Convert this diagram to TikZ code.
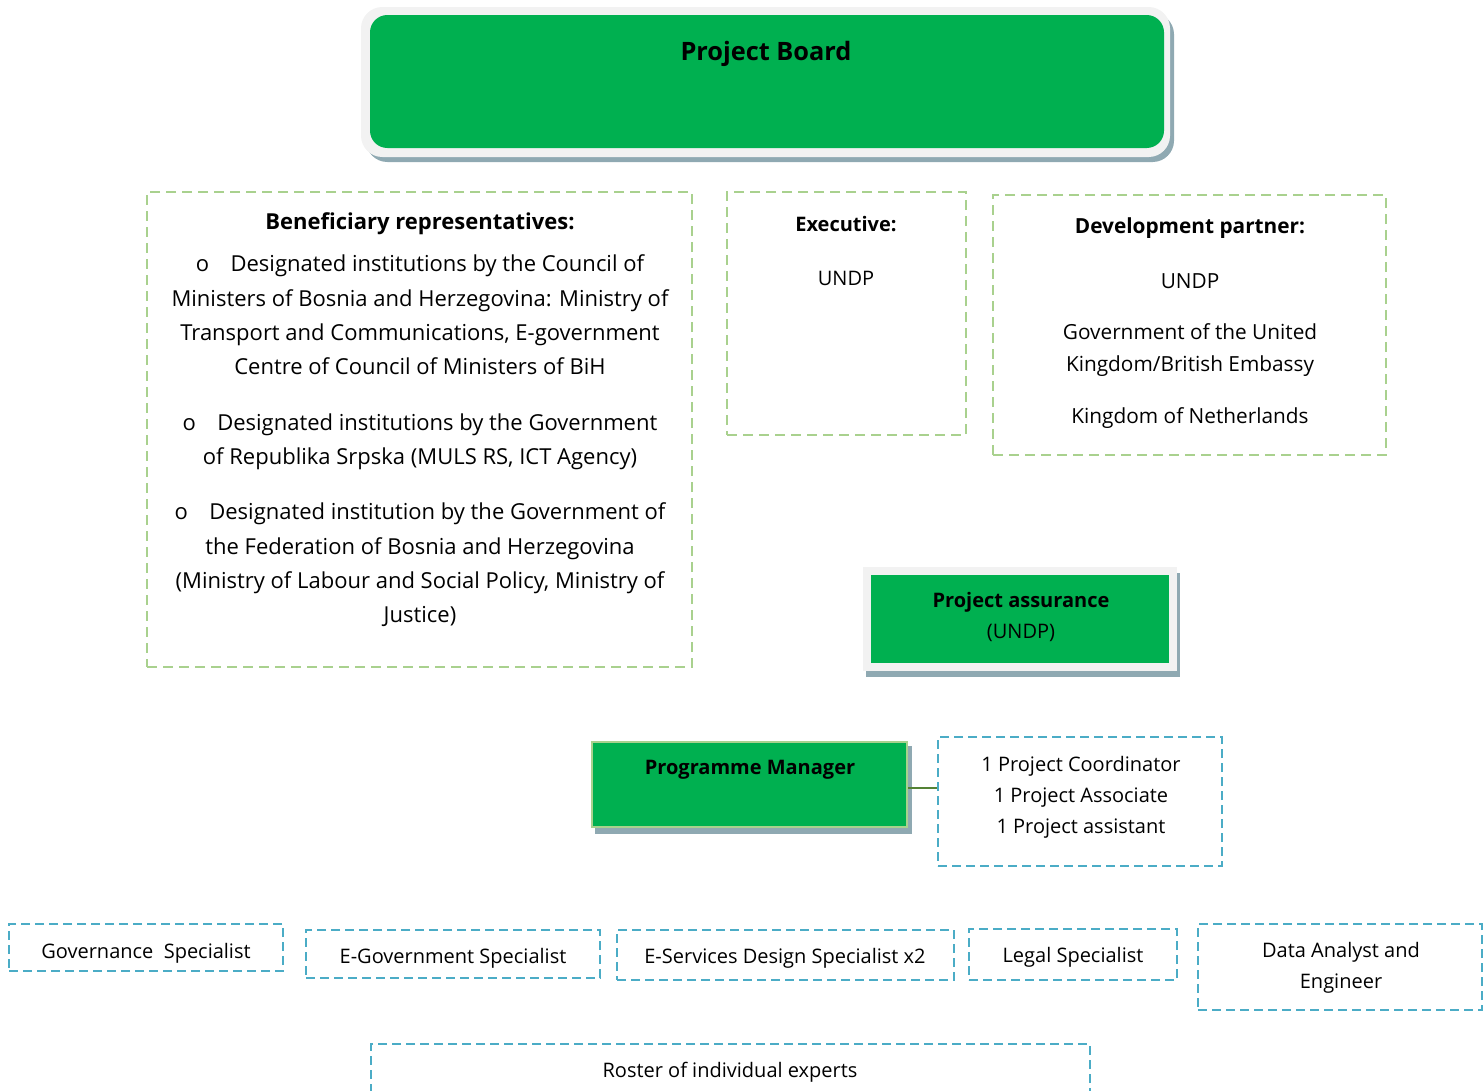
\documentclass[tikz,border=0pt]{standalone}
\usepackage{fontspec}
\setmainfont{Open Sans}
\usetikzlibrary{fit}
\definecolor{pgreen}{HTML}{00B050}
\definecolor{pframe}{HTML}{F2F2F2}
\definecolor{pshadow}{HTML}{8FA9B2}
\definecolor{lgreen}{HTML}{A9D18E}
\definecolor{lblue}{HTML}{4BACC6}
\definecolor{dgreen}{HTML}{548235}
\newcommand\bodyfs{\fontsize{15}{23.3}\selectfont}
\newcommand\benfs{\fontsize{16.5}{25.7}\selectfont}
\newcommand\devfs{\fontsize{15.6}{24}\selectfont}
\newcommand\bul{o\hspace{16pt}}
\begin{document}
\begin{tikzpicture}[x=0.75pt,y=-0.75pt,
  txt/.style={font=\bodyfs, align=center, inner sep=0pt},
  ttl/.style={font=\bodyfs\bfseries, inner sep=0pt},
  gbox/.style={draw=lgreen, line width=1.7pt, dash pattern=on 7.5pt off 4.5pt, inner sep=0pt},
  bbox/.style={draw=lblue, line width=1.7pt, dash pattern=on 6.5pt off 4pt, inner sep=0pt},
  shad/.style={fill=pshadow, inner sep=0pt},
  frame/.style={fill=pframe, inner sep=0pt},
  gfill/.style={fill=pgreen, inner sep=0pt},
  conn/.style={draw=dgreen, line width=1.5pt}]
\useasboundingbox (0,0) rectangle (1483,1090);
\clip (0,0) rectangle (1483,1090);

% Project Board
\node[shad, rounded corners=16pt, fit={(366,13) (1174,162)}] (pbshadow) {};
\node[frame, rounded corners=16pt, fit={(361,7) (1170,157)}] (pbframe) {};
\node[gfill, rounded corners=13pt, fit={(370,15) (1164,148)}] (pb) {};
\node[font=\fontsize{19}{22}\selectfont\bfseries, inner sep=0pt] (pbt) at (766,54) {Project Board};

% Beneficiary representatives
\node[gbox, fit={(147,192) (692,667)}] (ben) {};
\node[ttl, font=\benfs\bfseries] (bent) at (420,224) {Beneficiary representatives:};
\node[txt, font=\benfs] (b1) at (420,315) {\bul Designated institutions by the Council of\\Ministers of Bosnia and Herzegovina: Ministry of\\Transport and Communications, E-government\\Centre of Council of Ministers of BiH};
\node[txt, font=\benfs] (b2) at (420,442) {\bul Designated institutions by the Government\\of Republika Srpska (MULS RS, ICT Agency)};
\node[txt, font=\benfs] (b3) at (420,565) {\bul Designated institution by the Government of\\the Federation of Bosnia and Herzegovina\\(Ministry of Labour and Social Policy, Ministry of\\Justice)};

% Executive
\node[gbox, fit={(727,192) (966,435)}] (exe) {};
\node[ttl] (exet) at (846,224) {Executive:};
\node[txt] (exeu) at (846,278) {UNDP};

% Development partner
\node[gbox, fit={(993,195) (1386,455)}] (dev) {};
\node[ttl, font=\devfs\bfseries] (devt) at (1190,228) {Development partner:};
\node[txt, font=\devfs] (devu) at (1190,281) {UNDP};
\node[txt, font=\devfs] (devg) at (1190,350) {Government of the United\\Kingdom/British Embassy};
\node[txt, font=\devfs] (devn) at (1190,418) {Kingdom of Netherlands};

% Project assurance
\node[shad, fit={(866,573) (1180,677)}] (pashadow) {};
\node[frame, fit={(863,567) (1177,671)}] (paframe) {};
\node[gfill, fit={(871,575) (1169,663)}] (pa) {};
\node[ttl] (pat) at (1021,602) {Project assurance};
\node[txt] (pau) at (1021,633) {(UNDP)};

% Programme Manager
\node[shad, fit={(595,746) (912,834)}] (pmshadow) {};
\node[gfill, draw=lgreen, line width=2.2pt, fit={(592,742) (907,827)}] (pm) {};
\node[ttl] (pmt) at (750,770) {Programme Manager};

% Team
\node[bbox, fit={(938,737) (1222,866)}] (team) {};
\node[txt] (teamt) at (1081,797) {1 Project Coordinator\\1 Project Associate\\1 Project assistant};
\draw[conn] ([yshift=-2.5pt]pm.east) -- ([yshift=-2.5pt]pm.east -| team.west);

% Specialists
\node[bbox, fit={(9,924) (283,971)}] (gov) {};
\node[txt] (govt) at (146,953) {Governance\ \ Specialist};
\node[bbox, fit={(306,930) (600,978)}] (egov) {};
\node[txt] (egovt) at (453,958) {E-Government Specialist};
\node[bbox, fit={(617,930) (954,980)}] (eserv) {};
\node[txt] (eservt) at (785,958) {E-Services Design Specialist x2};
\node[bbox, fit={(969,929) (1177,980)}] (legal) {};
\node[txt] (legalt) at (1073,957) {Legal Specialist};
\node[bbox, fit={(1198,924) (1482,1010)}] (data) {};
\node[txt] (datat) at (1341,968) {Data Analyst and\\Engineer};

% Roster
\node[bbox, fit={(371,1044) (1090,1120)}] (roster) {};
\node[txt] (rostert) at (730,1072) {Roster of individual experts};
\end{tikzpicture}
\end{document}
